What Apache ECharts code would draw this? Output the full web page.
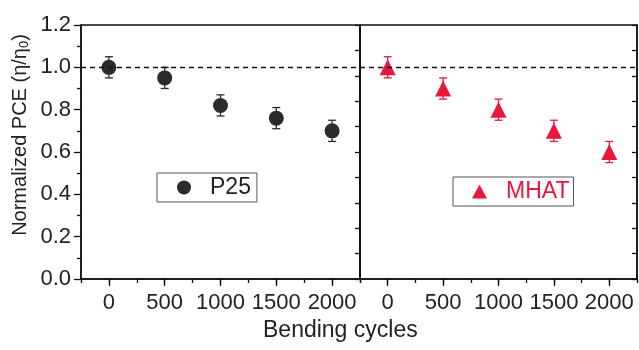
<!DOCTYPE html>
<html>
<head>
<meta charset="utf-8">
<script src="https://cdn.jsdelivr.net/npm/echarts@6/dist/echarts.min.js"></script>
<style>
  html, body { margin: 0; padding: 0; background: #fff; }
  #main { width: 639px; height: 350px; }
</style>
</head>
<body>
<div id="main"></div>
<script>
  // bending cycles and normalized PCE
  const cycles = [0, 500, 1000, 1500, 2000];
  const p25 = [1.0, 0.95, 0.82, 0.76, 0.70];
  const p25Err = [0.05, 0.05, 0.05, 0.05, 0.05];
  const mhat = [1.0, 0.90, 0.80, 0.70, 0.60];
  const mhatErr = [0.05, 0.05, 0.05, 0.05, 0.05];
  const xTicks = [0, 500, 1000, 1500, 2000];

  const FONT = 'Liberation Sans';
  const AXIS = '#111';
  const BLACK = '#2b2b2b';
  const RED = '#e8173c';

  const chart = echarts.init(document.getElementById('main'));

  function pts(ys) {
    return cycles.map((c, i) => [c, ys[i]]);
  }
  function errPts(ys, es) {
    return cycles.map((c, i) => [c, ys[i], es[i]]);
  }

  // error bar with caps
  function errorBar(params, api) {
    const x = api.value(0), y = api.value(1), e = api.value(2);
    const hi = api.coord([x, y + e]);
    const lo = api.coord([x, y - e]);
    const w = 4;
    const style = { stroke: api.visual('color'), lineWidth: 1.3 };
    return {
      type: 'group',
      children: [
        { type: 'line', shape: { x1: hi[0], y1: hi[1], x2: lo[0], y2: lo[1] }, style },
        { type: 'line', shape: { x1: hi[0] - w, y1: hi[1], x2: hi[0] + w, y2: hi[1] }, style },
        { type: 'line', shape: { x1: lo[0] - w, y1: lo[1], x2: lo[0] + w, y2: lo[1] }, style }
      ]
    };
  }

  function mainX(grid) {
    return {
      type: 'value', gridIndex: grid, position: 'bottom',
      min: -250, max: 2250,
      axisLine: { onZero: false, lineStyle: { color: AXIS, width: 1.5 } },
      axisTick: { customValues: xTicks, length: 7, lineStyle: { color: AXIS, width: 1.3 } },
      axisLabel: {
        customValues: xTicks, margin: 13, fontFamily: FONT, fontSize: 22, color: '#222',
        formatter: v => String(v)
      },
      splitLine: { show: false }
    };
  }
  function minorX(grid) {
    return {
      type: 'value', gridIndex: grid, position: 'bottom',
      min: -250, max: 2250, interval: 250,
      axisLine: { show: false, onZero: false },
      axisTick: { length: 4, lineStyle: { color: AXIS, width: 1.3 } },
      axisLabel: { show: false },
      splitLine: { show: false }
    };
  }
  function rightY(grid) {
    return {
      type: 'value', gridIndex: grid, position: 'right',
      min: 0, max: 10, interval: 1,
      axisLine: { show: true, onZero: false, lineStyle: { color: AXIS, width: 1.5 } },
      axisTick: { show: true, inside: true, length: 5, lineStyle: { color: AXIS, width: 1.3 } },
      axisLabel: { show: false },
      splitLine: { show: false }
    };
  }

  const refLine = {
    symbol: 'none', silent: true,
    label: { show: false },
    lineStyle: { color: '#111', type: [5, 4], width: 1.3 },
    data: [{ yAxis: 1 }]
  };

  const option = {
    backgroundColor: '#fff',
    animation: false,
    textStyle: { fontFamily: FONT },
    grid: [
      { left: 81, top: 25, width: 279, height: 254, show: true, borderColor: AXIS, borderWidth: 1.5 },
      { left: 360, top: 25, width: 277, height: 254, show: true, borderColor: AXIS, borderWidth: 1.5 }
    ],
    xAxis: [mainX(0), minorX(0), mainX(1), minorX(1)],
    yAxis: [
      {
        type: 'value', gridIndex: 0, position: 'left',
        min: 0, max: 1.2, interval: 0.2,
        axisLine: { show: true, onZero: false, lineStyle: { color: AXIS, width: 1.5 } },
        axisTick: { show: true, length: 7, lineStyle: { color: AXIS, width: 1.3 } },
        minorTick: { show: true, splitNumber: 2, length: 4, lineStyle: { color: AXIS, width: 1.3 } },
        axisLabel: { margin: 10, fontFamily: FONT, fontSize: 22, color: '#222', formatter: v => v.toFixed(1) },
        splitLine: { show: false }
      },
      rightY(0),
      {
        type: 'value', gridIndex: 1, position: 'left',
        min: 0, max: 1.2, interval: 0.2,
        axisLine: { show: true, onZero: false, lineStyle: { color: AXIS, width: 1.5 } },
        axisTick: { show: false },
        axisLabel: { show: false },
        splitLine: { show: false }
      },
      rightY(1)
    ],
    legend: [
      {
        left: 157, top: 173,
        data: [{ name: 'P25', icon: 'circle' }],
        itemWidth: 14, itemHeight: 14,
        padding: [3, 6, 3, 20],
        borderColor: '#555', borderWidth: 1,
        textStyle: { fontFamily: FONT, fontSize: 23, color: '#222', padding: [0, 0, 0, 14] }
      },
      {
        left: 453, top: 177,
        data: [{ name: 'MHAT', icon: 'triangle' }],
        itemWidth: 15, itemHeight: 14,
        padding: [3, 4, 3, 19],
        borderColor: '#555', borderWidth: 1,
        textStyle: { fontFamily: FONT, fontSize: 23, color: RED, padding: [0, 0, 0, 14] }
      }
    ],
    title: {
      text: 'Bending cycles',
      left: 263, top: 319,
      padding: 0,
      textStyle: { fontFamily: FONT, fontSize: 23, fontWeight: 'normal', color: '#222' }
    },
    graphic: [
      {
        type: 'text',
        x: 20, y: 135,
        rotation: Math.PI / 2,
        style: {
          text: 'Normalized PCE (η/η{sub|0})',
          fontFamily: FONT, fontSize: 20, fill: '#222',
          align: 'center', verticalAlign: 'middle',
          rich: { sub: { fontSize: 13, fill: '#222', verticalAlign: 'bottom', padding: [8, 0, 0, 0] } }
        }
      }
    ],
    series: [
      {
        name: 'P25 error', type: 'custom', xAxisIndex: 0, yAxisIndex: 0,
        itemStyle: { color: BLACK },
        renderItem: errorBar, encode: { x: 0, y: 1 },
        data: errPts(p25, p25Err), z: 1
      },
      {
        name: 'P25', type: 'scatter', xAxisIndex: 0, yAxisIndex: 0,
        symbol: 'circle', symbolSize: 15,
        itemStyle: { color: BLACK, opacity: 1 },
        data: pts(p25), z: 3,
        markLine: refLine
      },
      {
        name: 'MHAT error', type: 'custom', xAxisIndex: 2, yAxisIndex: 2,
        itemStyle: { color: RED },
        renderItem: errorBar, encode: { x: 0, y: 1 },
        data: errPts(mhat, mhatErr), z: 1
      },
      {
        name: 'MHAT', type: 'scatter', xAxisIndex: 2, yAxisIndex: 2,
        symbol: 'triangle', symbolSize: 16,
        itemStyle: { color: RED, opacity: 1 },
        data: pts(mhat), z: 3,
        markLine: refLine
      }
    ]
  };

  chart.setOption(option);
</script>
</body>
</html>
